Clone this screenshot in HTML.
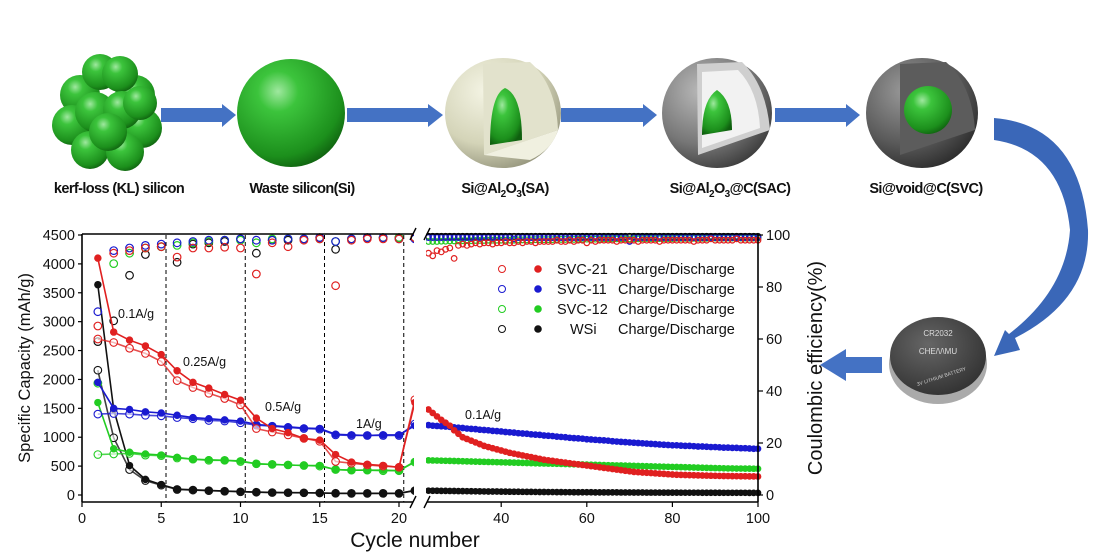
<!DOCTYPE html>
<html><head><meta charset="utf-8"><style>
html,body{margin:0;padding:0;background:#fff;}
svg{display:block;font-family:"Liberation Sans",sans-serif;}
.lbl{font-family:"Liberation Sans",sans-serif;font-weight:bold;font-size:14.5px;letter-spacing:-0.6px;fill:#111;}
</style></head><body>
<svg id="fig" width="1100" height="560" viewBox="0 0 1100 560">
<defs>
<radialGradient id="gG" cx="0.38" cy="0.3" r="0.75"><stop offset="0" stop-color="#9fe89f"/><stop offset="0.25" stop-color="#3cc43c"/><stop offset="0.8" stop-color="#1c8f1c"/><stop offset="1" stop-color="#0f5f0f"/></radialGradient>
<radialGradient id="gB" cx="0.35" cy="0.3" r="0.8"><stop offset="0" stop-color="#f4f4e4"/><stop offset="0.6" stop-color="#d4d4b8"/><stop offset="1" stop-color="#8c8c74"/></radialGradient>
<radialGradient id="gS" cx="0.35" cy="0.3" r="0.8"><stop offset="0" stop-color="#b8b8b8"/><stop offset="0.6" stop-color="#777"/><stop offset="1" stop-color="#333"/></radialGradient>
<radialGradient id="gD" cx="0.35" cy="0.3" r="0.8"><stop offset="0" stop-color="#999"/><stop offset="0.6" stop-color="#5a5a5a"/><stop offset="1" stop-color="#252525"/></radialGradient>
<radialGradient id="gC" cx="0.4" cy="0.35" r="0.8"><stop offset="0" stop-color="#666"/><stop offset="1" stop-color="#2a2a2a"/></radialGradient>
</defs>
<g id="illus">
 <g>
  <circle cx="80" cy="95" r="20" fill="url(#gG)"/><circle cx="135" cy="95" r="20" fill="url(#gG)"/>
  <circle cx="72" cy="125" r="20" fill="url(#gG)"/><circle cx="142" cy="128" r="20" fill="url(#gG)"/>
  <circle cx="90" cy="150" r="19" fill="url(#gG)"/><circle cx="125" cy="152" r="19" fill="url(#gG)"/>
  <circle cx="100" cy="72" r="18" fill="url(#gG)"/><circle cx="120" cy="74" r="18" fill="url(#gG)"/>
  <circle cx="95" cy="112" r="20" fill="url(#gG)"/><circle cx="122" cy="110" r="19" fill="url(#gG)"/>
  <circle cx="108" cy="132" r="19" fill="url(#gG)"/><circle cx="140" cy="103" r="17" fill="url(#gG)"/>
 </g>
 <circle cx="291" cy="113" r="54" fill="url(#gG)"/>
 <g>
  <ellipse cx="503" cy="113" rx="58" ry="55" fill="url(#gB)"/>
  <path d="M483 64 L530 62 Q556 85 558 130 L484 155 Z" fill="#e2e2cc"/>
  <path d="M484 155 L558 130 Q552 150 530 160 Z" fill="#f0f0e0"/>
  <path d="M490 145 Q490 95 505 88 Q522 95 522 140 Z" fill="url(#gG)"/>
 </g>
 <g>
  <ellipse cx="717" cy="113" rx="55" ry="55" fill="url(#gS)"/>
  <path d="M697 64 L742 62 Q766 85 770 130 L698 155 Z" fill="#cfcfcf"/>
  <path d="M702 72 L738 70 Q758 90 760 128 L702 148 Z" fill="#f2f2f2"/>
  <path d="M702 135 Q702 100 717 90 Q732 100 732 130 Z" fill="url(#gG)"/>
 </g>
 <g>
  <ellipse cx="922" cy="113" rx="56" ry="55" fill="url(#gD)"/>
  <path d="M900 64 L946 62 Q972 85 975 130 L900 155 Z" fill="#5c5c5c"/>
  <circle cx="928" cy="110" r="24" fill="url(#gG)"/>
 </g>
 <g fill="#4472c4">
  <path d="M161 108 H222 V104 L236 115 L222 127 V122 H161 Z"/>
  <path d="M347 108 H428 V104 L443 115 L428 127 V122 H347 Z"/>
  <path d="M561 108 H643 V104 L657 115 L643 127 V122 H561 Z"/>
  <path d="M775 108 H846 V104 L860 115 L846 127 V122 H775 Z"/>
  <path d="M994 118 Q1080 125 1088 230 Q1090 300 1015 338 L1020 350 L994 356 L1005 330 L1009 334 Q1066 290 1070 230 Q1062 150 994 140 Z" fill="#3a67b8"/>
  <path d="M882 357 V373 H846 V381 L820 365 L846 349 V357 Z"/>
 </g>
 <text class="lbl" x="119" y="193" text-anchor="middle">kerf-loss (KL) silicon</text>
 <text class="lbl" x="302" y="193" text-anchor="middle">Waste silicon(Si)</text>
 <text class="lbl" x="505" y="193" text-anchor="middle">Si@Al<tspan font-size="10" dy="4">2</tspan><tspan dy="-4">O</tspan><tspan font-size="10" dy="4">3</tspan><tspan dy="-4">(SA)</tspan></text>
 <text class="lbl" x="730" y="193" text-anchor="middle">Si@Al<tspan font-size="10" dy="4">2</tspan><tspan dy="-4">O</tspan><tspan font-size="10" dy="4">3</tspan><tspan dy="-4">@C(SAC)</tspan></text>
 <text class="lbl" x="926" y="193" text-anchor="middle">Si@void@C(SVC)</text>
 <g>
  <ellipse cx="938" cy="364" rx="49" ry="40" fill="#aaa"/>
  <ellipse cx="938" cy="356" rx="48" ry="39" fill="url(#gC)"/>
  <text x="938" y="336" fill="#ddd" font-size="8" text-anchor="middle">CR2032</text>
  <text x="938" y="354" fill="#ddd" font-size="8" text-anchor="middle">CHE/\/\MU</text>
  <text x="942" y="378" fill="#ccc" font-size="5" text-anchor="middle" transform="rotate(-18 942 378)">3V LITHIUM BATTERY</text>
 </g>
</g>
<g id="chart"></g>
</svg>
<script>
const cyclesL=[1,2,3,4,5,6,7,8,9,10,11,12,13,14,15,16,17,18,19,20,21];
const redDis=[4100,2820,2680,2580,2430,2150,1950,1850,1740,1640,1330,1150,1080,980,950,700,570,530,510,480,1600];
const redCha=[2700,2640,2540,2450,2310,1980,1860,1760,1670,1560,1150,1090,1040,980,930,580,550,520,500,480,1650];
const blueDis=[1950,1500,1480,1440,1420,1380,1340,1320,1300,1280,1220,1200,1180,1160,1150,1050,1040,1030,1040,1040,1200];
const blueCha=[1400,1410,1400,1380,1370,1340,1320,1290,1280,1250,1210,1190,1170,1150,1140,1040,1030,1030,1030,1030,1230];
const greenDis=[1600,800,740,710,690,650,620,610,600,590,540,530,520,510,510,440,430,430,430,420,580];
const greenCha=[700,710,720,690,680,640,620,600,600,580,540,530,520,510,500,440,430,430,420,420,570];
const blackDis=[3640,1480,510,270,180,100,90,80,70,60,50,45,40,40,35,30,30,30,30,30,80];
const blackCha=[2160,990,440,250,170,95,85,75,65,55,48,42,40,38,35,30,28,28,28,28,75];
const redCE=[65,93,94,95,95.5,91.5,95,95,95.3,95,85,97,95.5,98,98.5,80.5,98,98.5,98.5,98.5,99];
const blueCE=[70.5,94,95,96,96.5,97,97.5,98,98,98.5,98,98,98.5,98.5,99,97.5,98.5,99,99,98.5,98.5];
const greenCE=[43,89,93,95,95.5,96,97,97.5,98,98,97,98.5,98.5,98.5,98.5,97.5,98.5,99,99,99,99];
const blackCE=[59,67,84.5,92.5,95.5,89.5,96.5,97,97.5,98.5,93,98,98,98.5,99,94.5,98.5,99,99,99,99];
const cyclesR=[23,24,25,26,27,28,29,30,31,32,33,34,35,36,37,38,39,40,41,42,43,44,45,46,47,48,49,50,51,52,53,54,55,56,57,58,59,60,61,62,63,64,65,66,67,68,69,70,71,72,73,74,75,76,77,78,79,80,81,82,83,84,85,86,87,88,89,90,91,92,93,94,95,96,97,98,99,100];
const redR=[1480,1420,1360,1300,1250,1200,1120,1060,1000,970,940,910,880,850,830,810,790,770,750,730,715,700,685,670,655,640,625,610,600,590,580,570,560,550,540,530,520,510,500,490,480,470,460,450,440,430,420,410,400,395,390,385,380,375,370,365,360,355,350,348,346,344,342,340,338,336,334,332,330,329,328,327,326,325,324,323,322,320];
const blueR=[1210,1200,1195,1190,1185,1180,1170,1165,1160,1150,1145,1140,1130,1125,1120,1110,1105,1100,1090,1085,1080,1070,1065,1060,1050,1045,1040,1030,1025,1020,1010,1005,1000,990,985,980,975,965,960,955,950,945,940,930,925,920,915,910,905,900,895,890,885,880,875,870,865,860,860,855,850,850,845,840,840,835,830,830,825,820,820,815,815,810,810,805,800,800];
const greenR=[600,598,596,594,592,590,588,586,584,582,580,578,576,574,572,570,568,566,564,562,560,558,556,554,552,550,548,546,544,542,540,538,536,534,532,530,528,526,524,522,520,518,516,514,512,510,508,506,504,502,500,498,496,494,492,490,488,486,484,482,480,478,476,474,472,470,468,466,464,462,460,460,458,458,456,456,455,455];
const blackR=[75,74,73,72,71,70,69,68,67,66,65,64,63,62,61,60,60,59,58,57,56,56,55,54,54,53,52,52,51,51,50,50,49,49,48,48,47,47,47,46,46,46,45,45,45,44,44,44,43,43,43,42,42,42,42,41,41,41,41,40,40,40,40,40,39,39,39,39,39,38,38,38,38,38,38,37,37,37];
const redCER=[93,92,94,93.5,94.5,95,91,96,96.5,96,96.5,97,96.5,97,97,96.5,97,97,97.5,97,97,97.5,97,97.5,97.5,97,97.5,97.5,97.5,97.5,98,97.5,97.5,98,97.5,98,98,97,98,97.5,98,98,98,98,97.5,98,98,98,98,97.5,98,98,98,98,97.5,98,98,98,98,98,98,98,97.5,98,98,98,98.5,98,98,98,98,98,98.5,98,98,98,98,98];
const blueCER=[99,99,99,99,99,99,99,99,99,99,99,99,99,99,99,99,99,99,99,99,98.5,99,99,99,99,99,99,99,99,99,99,99,99,99,99,99,99,99,99,99,99,99,99,99,99,99,99,97.5,99,99,99,99,99,99,99,99,99,99,99,99,99,99,99,99,99,99,99,99,99,99,99,99,99,99,99,99,99,99];
const greenCER=[97.5,97.5,97.5,97.6,97.6,97.7,97.7,97.7,97.8,97.8,97.8,97.9,97.9,97.9,98,98,98,98,98,98,98,98.1,98.1,98.1,98.1,98.2,98.2,98.2,98.2,98.2,98.3,98.3,98.3,98.3,98.3,98.4,98.4,98.4,98.4,98.4,98.4,98.5,98.5,98.5,98.5,98.5,98.5,98.5,98.5,98.5,98.6,98.6,98.6,98.6,98.6,98.6,98.6,98.6,98.7,98.7,98.7,98.7,98.7,98.7,98.7,98.7,98.7,98.8,98.8,98.8,98.8,98.8,98.8,98.8,98.8,98.8,98.8,98.8];
const blackCER=[99.5,99.5,99.5,99.5,99.5,99.5,99.5,99.5,99.5,99.5,99.5,99.5,99.5,99.5,99.5,99.5,99.5,99.5,99.5,99.5,99.5,99.5,99.5,99.5,99.5,99.5,99.5,99.5,99.5,99.5,99.5,99.5,99.5,99.5,99.5,99.5,99.5,99.5,99.5,99.5,99.5,99.5,99.5,99.5,99.5,99.5,99.5,99.5,99.5,99.5,99.5,99.5,99.5,99.5,99.5,99.5,99.5,99.5,99.5,99.5,99.5,99.5,99.5,99.5,99.5,99.5,99.5,99.5,99.5,99.5,99.5,99.5,99.5,99.5,99.5,99.5,99.5,99.5];
const yTicks=[0,500,1000,1500,2000,2500,3000,3500,4000,4500];
const xTicksL=[0,5,10,15,20];
const xTicksR=[40,60,80,100];
const ceTicks=[0,20,40,60,80,100];
const rateLabels=["0.1A/g","0.25A/g","0.5A/g","1A/g","0.1A/g"];
const dashCycles=[5.3,10.3,15.3,20.3];
const legendNames=["SVC-21 Charge/Discharge","SVC-11 Charge/Discharge","SVC-12 Charge/Discharge","WSi    Charge/Discharge"];

const NS="http://www.w3.org/2000/svg";
const g=document.getElementById('chart');
const Y0=495, YTOP=235, XL0=82, XL1=413, XR0=427, XR1=758;
const yCap=v=>Y0-v*(Y0-YTOP)/4500;
const yCE=v=>Y0-v*(Y0-YTOP)/100;
const xL=c=>XL0+c*15.85;
const xR=c=>XR1-(100-c)*4.28;
function mk(tag,attrs,parent){const e=document.createElementNS(NS,tag);for(const k in attrs)e.setAttribute(k,attrs[k]);(parent||g).appendChild(e);return e;}
function txt(s,attrs,parent){const e=mk('text',attrs,parent);e.textContent=s;return e;}

const colors=["#e02020","#1a1ad0","#22cc22","#111111"];
const seriesL=[[redDis,redCha,redCE],[blueDis,blueCha,blueCE],[greenDis,greenCha,greenCE],[blackDis,blackCha,blackCE]];
const seriesR=[[redR,redR,redCER],[blueR,blueR,blueCER],[greenR,greenR,greenCER],[blackR,blackR,blackCER]];
const snames=["svc-21","svc-11","svc-12","wsi"];

dashCycles.forEach(c=>{
 const l=mk('line',{x1:xL(c),x2:xL(c),y1:235,y2:502,stroke:'#000','stroke-width':1,'stroke-dasharray':'4,3'});
 
 
});

function drawSeries(idx,cyc,arrs,xf,seg,rad){
 const col=colors[idx];
 const [dis,cha,ce]=arrs;
 [cha,dis].forEach((arr,k)=>{
  const pts=cyc.map((c,i)=>xf(c).toFixed(1)+','+yCap(arr[i]).toFixed(1)).join(' ');
  const pl=mk('polyline',{points:pts,fill:'none',stroke:col,'stroke-width':1.6,opacity:k?1:0.8});
  
  
 });
 cyc.forEach((c,i)=>{
  const a=mk('circle',{cx:xf(c),cy:yCap(cha[i]),r:rad,fill:'#fff','fill-opacity':0.6,stroke:col,'stroke-width':1.1});
  
  
  const b=mk('circle',{cx:xf(c),cy:yCap(dis[i]),r:rad*0.9,fill:col,stroke:col,'stroke-width':0.6});
  
  
  const e=mk('circle',{cx:xf(c),cy:yCE(ce[i]),r:rad,fill:'none',stroke:col,'stroke-width':1.2});
  
  
 });
}
[3,2,1,0].forEach(i=>{drawSeries(i,cyclesL,seriesL[i],xL,'left',3.8);drawSeries(i,cyclesR,seriesR[i],xR,'right',2.8);});

const gap=mk('rect',{x:XL1+1,y:200,width:XR0-XL1-2,height:320,fill:'#fff'});



const ax=mk('g',{stroke:'#000','stroke-width':1.6,fill:'none'});


mk('line',{x1:XL0,x2:XL0,y1:234,y2:502},ax);
mk('line',{x1:XR1,x2:XR1,y1:234,y2:502},ax);
mk('line',{x1:XL0,x2:XL1,y1:502,y2:502},ax);
mk('line',{x1:XR0,x2:XR1,y1:502,y2:502},ax);
mk('line',{x1:XL0,x2:XL1,y1:234,y2:234},ax);
mk('line',{x1:XR0,x2:XR1,y1:234,y2:234},ax);
[[XL1,234],[XL1,502],[XR0,234],[XR0,502]].forEach(p=>mk('line',{x1:p[0]-3,y1:p[1]+6,x2:p[0]+3,y2:p[1]-6,'stroke-width':1.4},ax));

yTicks.forEach(v=>{
 mk('line',{x1:XL0-4,x2:XL0,y1:yCap(v),y2:yCap(v),stroke:'#000','stroke-width':1.2});
 const t=txt(String(v),{x:XL0-7,y:yCap(v)+5,'text-anchor':'end','font-size':14.5,fill:'#111'});
 
 
});
ceTicks.forEach(v=>{
 mk('line',{x1:XR1,x2:XR1+5,y1:yCE(v),y2:yCE(v),stroke:'#000','stroke-width':1.2});
 const t=txt(String(v),{x:XR1+8,y:yCE(v)+5,'font-size':14.5,fill:'#111'});
 
 
});
xTicksL.forEach(v=>{
 mk('line',{x1:xL(v),x2:xL(v),y1:502,y2:507,stroke:'#000','stroke-width':1.2});
 const t=txt(String(v),{x:xL(v),y:523,'text-anchor':'middle','font-size':14.5,fill:'#111'});
 
 
});
xTicksR.forEach(v=>{
 mk('line',{x1:xR(v),x2:xR(v),y1:502,y2:507,stroke:'#000','stroke-width':1.2});
 const t=txt(String(v),{x:xR(v),y:523,'text-anchor':'middle','font-size':14.5,fill:'#111'});
 
 
});
let t;
t=txt('Cycle number',{x:415,y:547,'text-anchor':'middle','font-size':21,fill:'#111'});

t=txt('Specific Capacity (mAh/g)',{x:0,y:0,'text-anchor':'middle','font-size':16.5,fill:'#111',transform:'translate(30 368) rotate(-90)'});

t=txt('Coulombic efficiency(%)',{x:0,y:0,'text-anchor':'middle','font-size':20,fill:'#111',transform:'translate(822 368) rotate(-90)'});


const rp=[[118,318],[183,366],[265,411],[356,428],[465,419]];
rateLabels.forEach((s,i)=>{
 const r=txt(s,{x:rp[i][0],y:rp[i][1],'font-size':12.5,fill:'#111'});
 
 
});
legendNames.forEach((s,i)=>{
 const y=269+i*20;
 const lg=mk('g',{});
 
 
 mk('circle',{cx:502,cy:y,r:3.5,fill:'none',stroke:colors[i],'stroke-width':1},lg);
 mk('circle',{cx:538,cy:y,r:3.8,fill:colors[i]},lg);
 const parts=s.split(/\s+/);
 const n=mk('text',{x:i==3?570:557,y:y+5,'font-size':14.5,fill:'#111'},lg);n.textContent=parts[0];
 const d=mk('text',{x:618,y:y+5,'font-size':14.5,fill:'#111'},lg);d.textContent=parts[1];
});
</script>
</body></html>
